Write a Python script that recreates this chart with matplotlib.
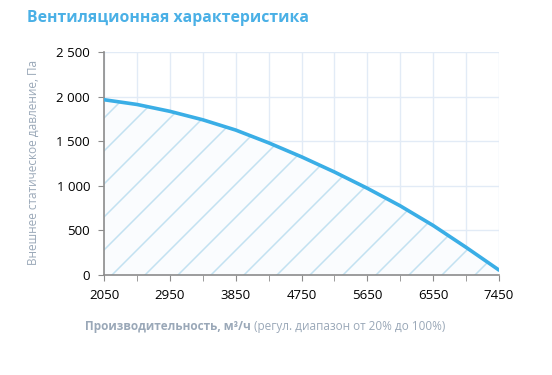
import matplotlib.pyplot as plt
import numpy as np
from matplotlib.patches import Polygon

# ===================================================================
# DATA
# ===================================================================
flow = [2050, 2500, 2950, 3400, 3850, 4300, 4750, 5200, 5650, 6100, 6550, 7000, 7450]
pressure = [1965, 1912, 1835, 1740, 1625, 1482, 1325, 1155, 972, 775, 555, 310, 55]
x_labels = [2050, 2950, 3850, 4750, 5650, 6550, 7450]
y_ticks = [0, 500, 1000, 1500, 2000, 2500]

title = "Вентиляционная характеристика"
ylabel = "Внешнее статическое давление, Па"
xlabel_bold = "Производительность, м³/ч"
xlabel_rest = " (регул. диапазон от 20% до 100%)"

# ===================================================================
# STYLE
# ===================================================================
plt.rcParams['font.family'] = ['Open Sans', 'DejaVu Sans']
line_color = '#3aaee6'
hatch_color = '#c2e1f1'
grid_color = '#e2ebf6'
label_gray = '#9aa8b8'
spine_gray = '#8c8c8c'

fig = plt.figure(figsize=(5.52, 3.75), dpi=100)
ax = fig.add_axes([104 / 552, 100 / 375, 395 / 552, 223 / 375])

xmin, xmax = 2050, 7450
ymin, ymax = 0, 2500
ax.set_xlim(xmin, xmax)
ax.set_ylim(ymin, ymax)

# Light fill under the curve
ax.fill_between(flow, pressure, 0, color='#fafcfe', zorder=1, linewidth=0)

# Diagonal hatch lines clipped to the area under the curve
poly = Polygon(list(zip(flow, pressure)) + [(xmax, 0), (xmin, 0)],
               closed=True, transform=ax.transData, facecolor='none', edgecolor='none')
ax.add_patch(poly)
w_px, h_px = 395, 223
step_px = 33
ux = (xmax - xmin) / w_px
for off in np.arange(-h_px, w_px + step_px, step_px):
    x0 = xmin + off * ux
    x1 = xmin + (off + h_px) * ux
    ln, = ax.plot([x0, x1], [0, ymax], color=hatch_color, linewidth=1.1, zorder=2)
    ln.set_clip_path(poly)

# Curve
ax.plot(flow, pressure, color=line_color, linewidth=2.6, zorder=4, solid_capstyle='round')

# Ticks and grid
ax.set_xticks(np.arange(xmin, xmax + 1, 450), minor=True)
ax.set_xticks(x_labels)
ax.set_xticklabels([str(v) for v in x_labels])
ax.set_yticks(y_ticks)
ax.set_yticklabels([f"{v:,}".replace(",", " ") for v in y_ticks])
ax.grid(True, which='both', color=grid_color, linewidth=1.0, zorder=0)
ax.set_axisbelow(True)

for s in ['top', 'right']:
    ax.spines[s].set_visible(False)
for s in ['left', 'bottom']:
    ax.spines[s].set_color(spine_gray)
    ax.spines[s].set_linewidth(1.2)

ax.tick_params(axis='both', which='both', direction='out', length=4, color=spine_gray,
               labelsize=9.5, labelcolor='black')
ax.tick_params(axis='x', which='major', pad=6)
ax.tick_params(axis='y', pad=6)

# Titles and labels
fig.text(27 / 552, 1 - 18 / 375, title, fontsize=11.3, fontweight='bold',
         color='#4ab0e6', va='center', ha='left')
fig.text(33 / 552, 1 - 162 / 375, ylabel, fontsize=8.5, color=label_gray,
         rotation=90, va='center', ha='center')
t1 = fig.text(85 / 552, 1 - 330 / 375, xlabel_bold, fontsize=8.5, fontweight='bold',
              color=label_gray, va='baseline', ha='left')
fig.canvas.draw()
ax.annotate(xlabel_rest, xy=(1, 0), xycoords=t1, fontsize=8.5, color=label_gray,
            va='bottom', ha='left')

fig.savefig('out.png', dpi=100)
